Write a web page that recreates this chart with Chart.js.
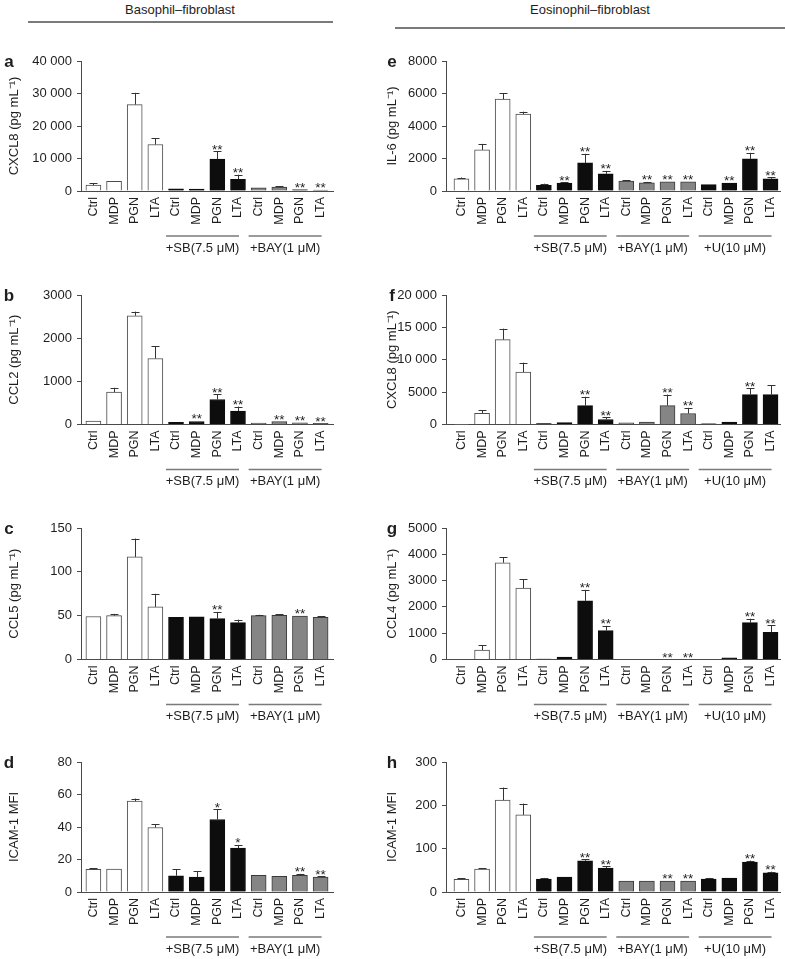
<!DOCTYPE html>
<html><head><meta charset="utf-8">
<script src="https://cdn.jsdelivr.net/npm/chart.js@4.4.1/dist/chart.umd.min.js"></script>
<style>
body{margin:0;background:#fff;width:785px;height:959px;position:relative;overflow:hidden;font-family:"Liberation Sans",Arial,Helvetica,sans-serif;color:#1e1e1e}
.abs{position:absolute}
.hdr{font-size:13px;white-space:nowrap;transform:translate(-50%,-50%)}
.hline{height:1.5px;background:#7a7a7a}
.let{font-size:17px;font-weight:bold;transform:translate(-50%,-50%)}
</style></head><body>
<div class="abs hdr" style="left:180px;top:9px">Basophil–fibroblast</div>
<div class="abs hline" style="left:28px;top:21px;width:305px"></div>
<div class="abs hdr" style="left:590px;top:9px">Eosinophil–fibroblast</div>
<div class="abs hline" style="left:395px;top:27px;width:390px"></div>
<script>
// ---------- categories / groups ----------
const basCats = ['Ctrl','MDP','PGN','LTA','Ctrl','MDP','PGN','LTA','Ctrl','MDP','PGN','LTA'];
const eosCats = ['Ctrl','MDP','PGN','LTA','Ctrl','MDP','PGN','LTA','Ctrl','MDP','PGN','LTA','Ctrl','MDP','PGN','LTA'];
const basShades = ['W','W','W','W','B','B','B','B','G','G','G','G'];
const eosShades = ['W','W','W','W','B','B','B','B','G','G','G','G','B','B','B','B'];
const basGroupLabels = ['+SB(7.5 μM)', '+BAY(1 μM)'];
const eosGroupLabels = ['+SB(7.5 μM)', '+BAY(1 μM)', '+U(10 μM)'];

// ---------- a: CXCL8 basophil ----------
const cxcl8BasValues = [1800, 3000, 26600, 14300, 700, 600, 9800, 3600, 1000, 1200, 400, 300];
const cxcl8BasErrors = [600, 100, 3600, 2000, 200, 150, 2500, 1400, 200, 250, 100, 100];
const cxcl8BasStars  = ['','','','','','','**','**','','','**','**'];
const cxcl8BasTicks  = [0, 10000, 20000, 30000, 40000];
// ---------- b: CCL2 ----------
const ccl2Values = [80, 750, 2520, 1530, 50, 70, 580, 310, 35, 70, 40, 25];
const ccl2Errors = [0, 100, 95, 280, 10, 15, 115, 105, 5, 10, 5, 5];
const ccl2Stars  = ['','','','','','**','**','**','','**','**','**'];
const ccl2Ticks  = [0, 1000, 2000, 3000];
// ---------- c: CCL5 ----------
const ccl5Values = [49, 50, 117, 60, 48.2, 48.6, 46.7, 42, 50, 50.5, 49.4, 48.2];
const ccl5Errors = [0.3, 2, 21, 15, 0.5, 0.5, 7.6, 3.5, 1, 1, 0.7, 1];
const ccl5Stars  = ['','','','','','','**','','','','**',''];
const ccl5Ticks  = [0, 50, 100, 150];
// ---------- d: ICAM-1 basophil ----------
const icamBasValues = [13.9, 14.1, 55.9, 39.7, 10, 9.2, 44.6, 27, 10.2, 9.6, 10.2, 9.2];
const icamBasErrors = [0.6, 0.4, 1.6, 2, 4.1, 3.7, 6.3, 2, 0.4, 0.4, 1, 0.6];
const icamBasStars  = ['','','','','','','*','*','','','**','**'];
const icamBasTicks  = [0, 20, 40, 60, 80];
// ---------- e: IL-6 ----------
const il6Values = [750, 2530, 5650, 4730, 350, 490, 1730, 1060, 610, 510, 570, 570, 390, 490, 1980, 750];
const il6Errors = [80, 370, 370, 150, 100, 60, 560, 180, 60, 50, 40, 40, 20, 40, 370, 100];
const il6Stars  = ['','','','','','**','**','**','','**','**','**','','**','**','**'];
const il6Ticks  = [0, 2000, 4000, 6000, 8000];
// ---------- f: CXCL8 eosinophil ----------
const cxcl8EosValues = [60, 1740, 13100, 8100, 150, 300, 2920, 770, 250, 380, 2920, 1700, 100, 380, 4620, 4620];
const cxcl8EosErrors = [0, 500, 1700, 1450, 30, 40, 1350, 360, 40, 40, 1700, 870, 20, 40, 1000, 1480];
const cxcl8EosStars  = ['','','','','','','**','**','','','**','**','','','**',''];
const cxcl8EosTicks  = [0, 5000, 10000, 15000, 20000];
// ---------- g: CCL4 ----------
const ccl4Values = [0, 360, 3680, 2720, 20, 90, 2230, 1100, 0, 0, 0, 0, 0, 60, 1400, 1030];
const ccl4Errors = [0, 190, 200, 340, 5, 20, 420, 180, 0, 0, 0, 0, 0, 10, 150, 280];
const ccl4Stars  = ['','','','','','','**','**','','','**','**','','','**','**'];
const ccl4Ticks  = [0, 1000, 2000, 3000, 4000, 5000];
// ---------- h: ICAM-1 eosinophil ----------
const icamEosValues = [29, 53, 212, 178, 30, 34.6, 72, 55.4, 25.4, 25.4, 25.4, 25.4, 30, 32.3, 69, 44];
const icamEosErrors = [3, 2.4, 29, 26, 2.5, 1.5, 4, 4, 1, 1, 1.5, 1.5, 2.5, 1.5, 3.5, 3];
const icamEosStars  = ['','','','','','','**','**','','','**','**','','','**','**'];
const icamEosTicks  = [0, 100, 200, 300];

// ---------- styling / layout ----------
const FONT = '"Liberation Sans", Arial, Helvetica, sans-serif';
const INK = '#1e1e1e', AXIS = '#4a4a4a', GLINE = '#7a7a7a';
const FILL = {W:'#ffffff', B:'#0d0d0d', G:'#858585'};
const EDGE = {W:'#4d4d4d', B:'#0d0d0d', G:'#3a3a3a'};
const ROW_TOP = [61, 295, 528, 762];
const ROW_BOTTOM = [191, 424.5, 659.5, 892];
const CANVAS_H = 230, TOP_PAD = 30;
const COL = {
  left:  {x:0,   w:392, axisX:81,  axisEnd:333, lo:-0.6,  hi:0.6,  letterX:9,   groupStarts:[4,8]},
  right: {x:378, w:407, axisX:446, axisEnd:780, lo:-0.75, hi:0.46, letterX:392, groupStarts:[4,8,12]}
};

function fmt(v){ return v >= 10000 ? String(v).replace(/(\d+)(\d{3})$/, '$1 $2') : String(v); }

const extras = {
  id:'extras',
  afterDatasetsDraw(chart, args, opts){
    const p = opts.panel; if(!p) return;
    const {ctx, chartArea, scales:{x, y}} = chart;
    const meta = chart.getDatasetMeta(0);
    ctx.save();
    meta.data.forEach((bar, i) => {
      const v = p.values[i], e = p.errors[i];
      const top = y.getPixelForValue(v + e);
      const bx = Math.round(bar.x) + 0.5;
      if (e > 0 && bar.y - top > 0.8) {
        ctx.strokeStyle = '#333'; ctx.lineWidth = 1;
        ctx.beginPath();
        ctx.moveTo(bx, bar.y); ctx.lineTo(bx, top);
        ctx.moveTo(bx - 4, Math.round(top) + 0.5); ctx.lineTo(bx + 4, Math.round(top) + 0.5);
        ctx.stroke();
      }
      if (p.stars[i]) {
        ctx.fillStyle = INK; ctx.font = '13.5px ' + FONT;
        ctx.textAlign = 'center'; ctx.textBaseline = 'alphabetic';
        ctx.fillText(p.stars[i], bar.x, Math.min(top, bar.y) + 2.5);
      }
    });
    const base = chartArea.bottom;
    p.groupLabels.forEach((label, k) => {
      const s = p.groupStarts[k];
      const x1 = x.getPixelForValue(s) - 10, x2 = x.getPixelForValue(s + 3) + 1;
      ctx.strokeStyle = GLINE; ctx.lineWidth = 1.5;
      ctx.beginPath(); ctx.moveTo(x1, base + 45); ctx.lineTo(x2, base + 45); ctx.stroke();
      ctx.fillStyle = INK; ctx.font = '13px ' + FONT;
      ctx.textAlign = 'center'; ctx.textBaseline = 'middle';
      ctx.fillText(label, (x1 + x2) / 2, base + 57);
    });
    ctx.restore();
  }
};

function makePanel(letter, colKey, row, title, cats, shades, groupLabels, values, errors, stars, ticks){
  const col = COL[colKey];
  const wrap = document.createElement('div');
  wrap.className = 'abs';
  wrap.style.left = col.x + 'px';
  wrap.style.top = (ROW_TOP[row] - TOP_PAD) + 'px';
  const cv = document.createElement('canvas');
  cv.width = col.w; cv.height = CANVAS_H;
  cv.style.width = col.w + 'px'; cv.style.height = CANVAS_H + 'px';
  wrap.appendChild(cv); document.body.appendChild(wrap);

  const lt = document.createElement('div');
  lt.className = 'abs let'; lt.textContent = letter;
  lt.style.left = col.letterX + 'px'; lt.style.top = (ROW_TOP[row] + 1) + 'px';
  document.body.appendChild(lt);

  const plotH = ROW_BOTTOM[row] - ROW_TOP[row];
  const xh = CANVAS_H - TOP_PAD - plotH;
  const yw = col.axisX - col.x;
  const n = cats.length;
  const panel = {values, errors, stars, groupLabels, groupStarts: col.groupStarts};

  new Chart(cv, {
    type:'bar',
    data:{ datasets:[{
      data: values.map((v, i) => ({x:i, y:v})),
      backgroundColor: shades.map(s => FILL[s]),
      borderColor: shades.map(s => EDGE[s]),
      borderWidth: 1,
      barThickness: 15
    }]},
    options:{
      responsive:false, animation:false, devicePixelRatio:1,
      layout:{padding:{left:0, top:TOP_PAD, right: col.w - (col.axisEnd - col.x), bottom:0}},
      plugins:{legend:{display:false}, tooltip:{enabled:false}, extras:{panel}},
      scales:{
        x:{
          type:'linear', offset:false, min: col.lo, max: n - 1 + col.hi,
          afterBuildTicks: s => { s.ticks = cats.map((c, i) => ({value:i})); },
          ticks:{autoSkip:false, maxRotation:90, minRotation:90, padding:6, color:INK,
                 font:{family:FONT, size:12.5}, callback: v => cats[v]},
          grid:{display:false, drawTicks:false},
          border:{display:true, color:AXIS, width:1},
          afterFit: s => { s.height = xh; s.paddingLeft = 0; s.paddingRight = 0; }
        },
        y:{
          min:0, max: ticks[ticks.length - 1],
          afterBuildTicks: s => { s.ticks = ticks.map(t => ({value:t})); },
          ticks:{color:INK, font:{family:FONT, size:13}, padding:5, callback: v => fmt(v)},
          grid:{display:true, drawOnChartArea:false, drawTicks:true, tickLength:4, color:AXIS, lineWidth:1},
          border:{display:true, color:AXIS, width:1},
          title:{display:true, text:title, color:INK, font:{family:FONT, size:13}, padding:{top:7, bottom:0}},
          afterFit: s => { s.width = yw; s.paddingTop = 0; s.paddingBottom = 0; }
        }
      }
    },
    plugins:[extras]
  });
}

makePanel('a','left',0,'CXCL8 (pg mL⁻¹)', basCats, basShades, basGroupLabels, cxcl8BasValues, cxcl8BasErrors, cxcl8BasStars, cxcl8BasTicks);
makePanel('b','left',1,'CCL2 (pg mL⁻¹)', basCats, basShades, basGroupLabels, ccl2Values, ccl2Errors, ccl2Stars, ccl2Ticks);
makePanel('c','left',2,'CCL5 (pg mL⁻¹)', basCats, basShades, basGroupLabels, ccl5Values, ccl5Errors, ccl5Stars, ccl5Ticks);
makePanel('d','left',3,'ICAM-1 MFI', basCats, basShades, basGroupLabels, icamBasValues, icamBasErrors, icamBasStars, icamBasTicks);
makePanel('e','right',0,'IL-6 (pg mL⁻¹)', eosCats, eosShades, eosGroupLabels, il6Values, il6Errors, il6Stars, il6Ticks);
makePanel('f','right',1,'CXCL8 (pg mL⁻¹)', eosCats, eosShades, eosGroupLabels, cxcl8EosValues, cxcl8EosErrors, cxcl8EosStars, cxcl8EosTicks);
makePanel('g','right',2,'CCL4 (pg mL⁻¹)', eosCats, eosShades, eosGroupLabels, ccl4Values, ccl4Errors, ccl4Stars, ccl4Ticks);
makePanel('h','right',3,'ICAM-1 MFI', eosCats, eosShades, eosGroupLabels, icamEosValues, icamEosErrors, icamEosStars, icamEosTicks);
</script>
</body></html>
